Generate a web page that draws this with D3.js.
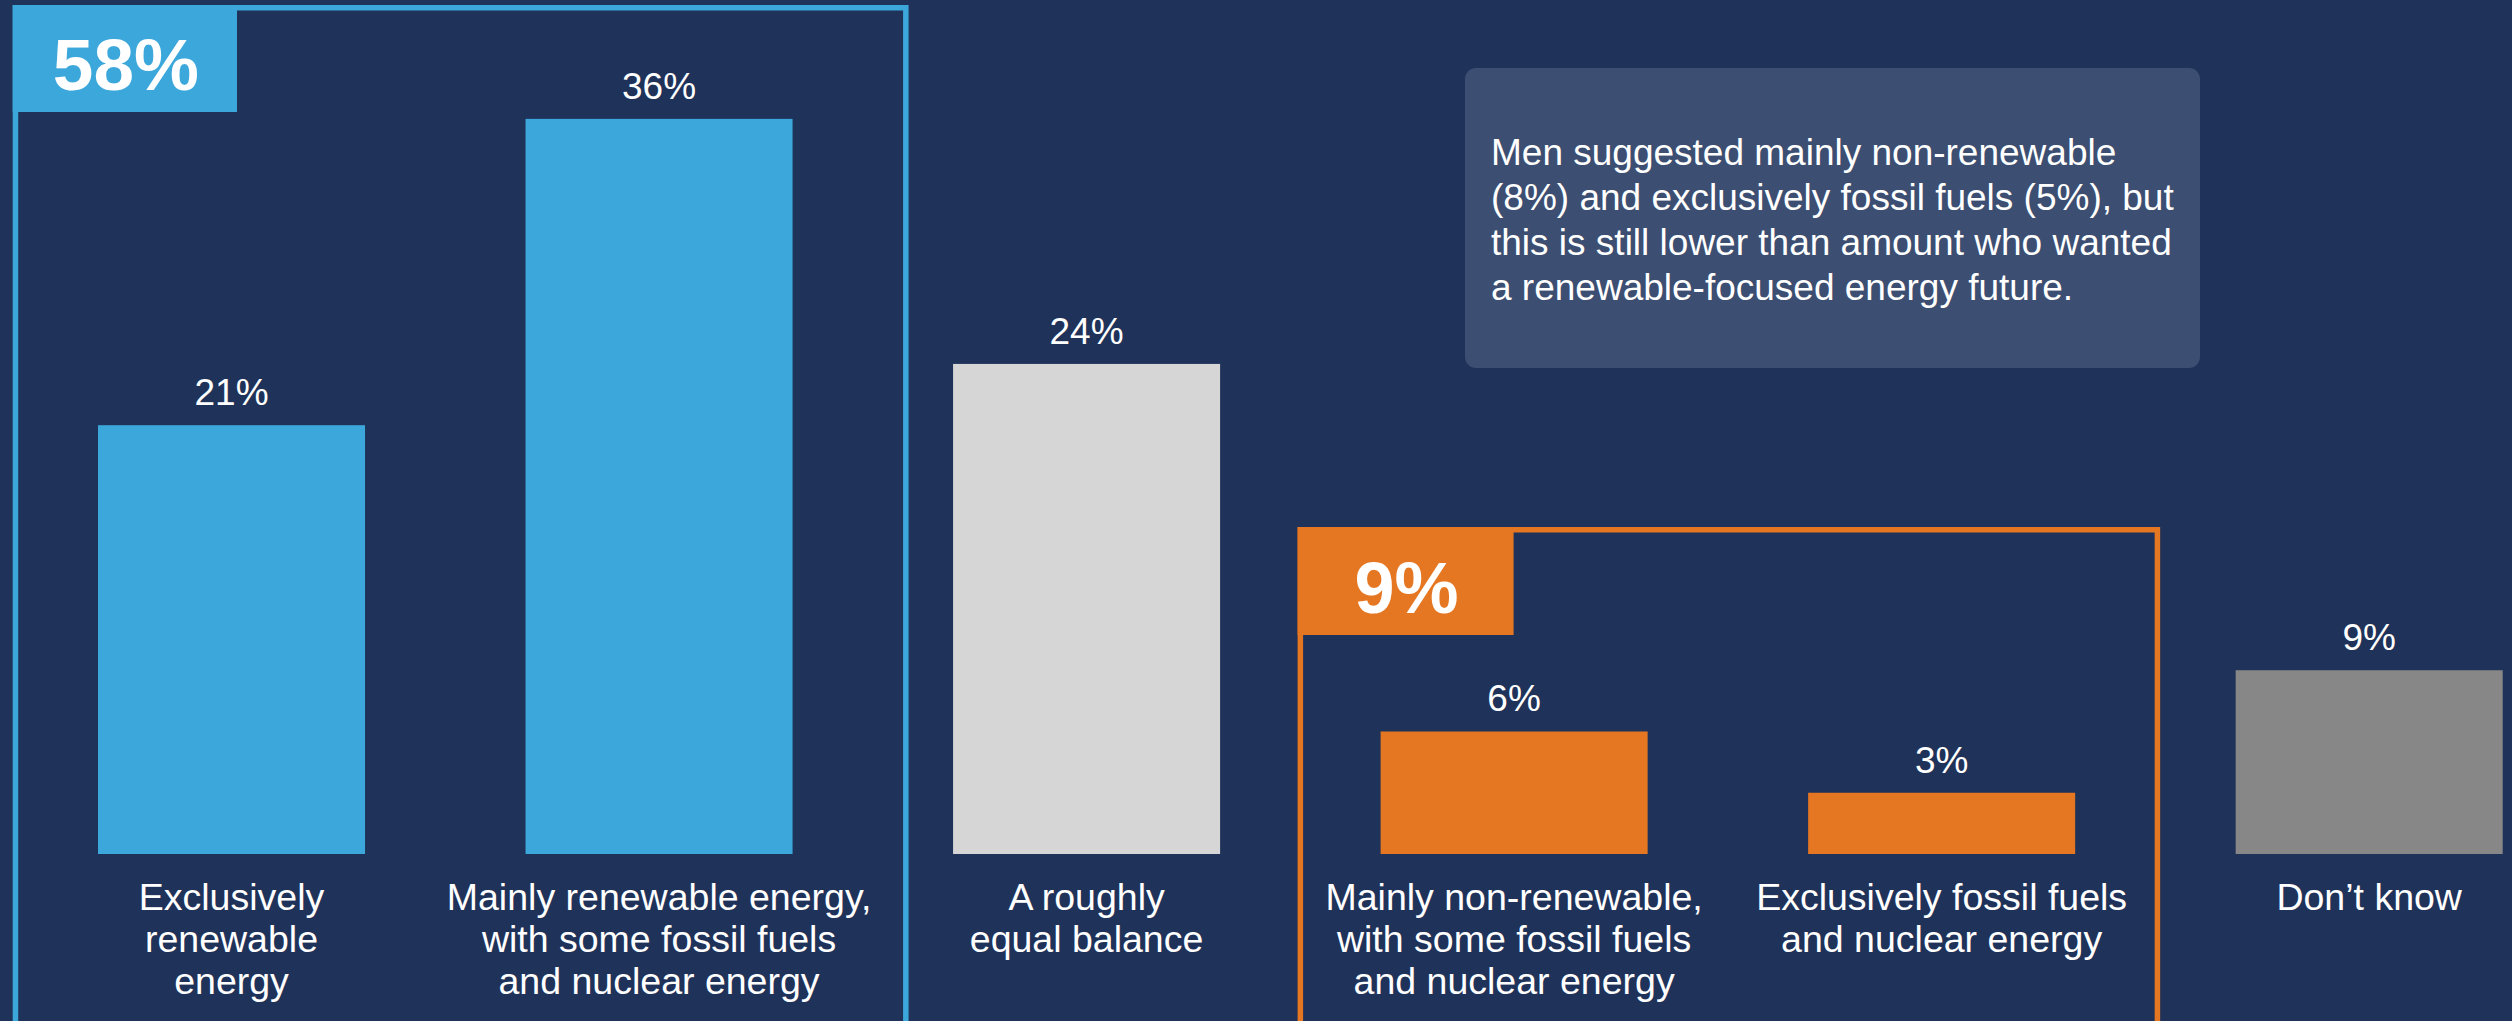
<!DOCTYPE html>
<html>
<head>
<meta charset="utf-8">
<script src="https://cdn.jsdelivr.net/npm/d3@7"></script>
<style>
  html, body { margin: 0; padding: 0; background: #1f3259; }
  svg { display: block; }
  text { font-family: "Liberation Sans", Arial, Helvetica, sans-serif; fill: #ffffff; }
</style>
</head>
<body>
<svg id="chart" width="2512" height="1021"></svg>
<script>
// Survey answers: preferred mix of energy sources
const categoryIds = ["excl-renew", "main-renew", "balance", "main-nonrenew", "excl-fossil", "dont-know"];
const categoryLines = [
  ["Exclusively", "renewable", "energy"],
  ["Mainly renewable energy,", "with some fossil fuels", "and nuclear energy"],
  ["A roughly", "equal balance"],
  ["Mainly non-renewable,", "with some fossil fuels", "and nuclear energy"],
  ["Exclusively fossil fuels", "and nuclear energy"],
  ["Don\u2019t know"]
];
const shareValues = [21, 36, 24, 6, 3, 9];
const barColors = ["#3ca7da", "#3ca7da", "#d6d6d6", "#e57622", "#e57622", "#878787"];

// Grouped totals shown in the corner badges
const groupNames = ["renewable", "nonrenewable"];
const groupMembers = [["excl-renew", "main-renew"], ["main-nonrenew", "excl-fossil"]];
const groupTotals = ["58%", "9%"];
const groupColors = ["#3ca7da", "#e57622"];

const noteLines = [
  "Men suggested mainly non-renewable",
  "(8%) and exclusively fossil fuels (5%), but",
  "this is still lower than amount who wanted",
  "a renewable-focused energy future."
];

const W = 2512, H = 1021;
const svg = d3.select("#chart");

const x = d3.scaleBand()
  .domain(categoryIds)
  .range([98, 2502.7])
  .paddingInner(0.3754)
  .paddingOuter(0);

const y = d3.scaleLinear()
  .domain([0, 40])
  .range([854, 854 - 40 * 20.42]);

const data = categoryIds.map((id, i) => ({
  id, lines: categoryLines[i], value: shareValues[i], color: barColors[i]
}));

// Group frames with badges
const frameSpecs = [
  { top: 5, padL: 85.3, padR: 116, stroke: 5.5, badgeW: 224.3, badgeH: 107, fontSize: 73, baseline: 85 },
  { top: 527, padL: 83, padR: 85, stroke: 5.5, badgeW: 216, badgeH: 108, fontSize: 72, baseline: 86 }
];

const frames = svg.append("g").attr("class", "groups");
groupNames.forEach((name, gi) => {
  const spec = frameSpecs[gi];
  const members = groupMembers[gi];
  const left = x(members[0]) - spec.padL;
  const right = x(members[members.length - 1]) + x.bandwidth() + spec.padR;
  const s = spec.stroke;
  const g = frames.append("g").attr("class", "group-" + name);
  g.append("rect")
    .attr("x", left + s / 2)
    .attr("y", spec.top + s / 2)
    .attr("width", right - left - s)
    .attr("height", H + 3 - spec.top - s / 2)
    .attr("fill", "none")
    .attr("stroke", groupColors[gi])
    .attr("stroke-width", s);
  g.append("rect")
    .attr("x", left)
    .attr("y", spec.top)
    .attr("width", spec.badgeW)
    .attr("height", spec.badgeH)
    .attr("fill", groupColors[gi]);
  g.append("text")
    .attr("x", left + spec.badgeW / 2 + 1)
    .attr("y", spec.top + spec.baseline)
    .attr("text-anchor", "middle")
    .attr("font-weight", "bold")
    .attr("font-size", spec.fontSize)
    .text(groupTotals[gi]);
});

// Bars
svg.append("g").attr("class", "bars")
  .selectAll("rect")
  .data(data)
  .join("rect")
  .attr("x", d => x(d.id))
  .attr("y", d => y(d.value))
  .attr("width", x.bandwidth())
  .attr("height", d => y(0) - y(d.value))
  .attr("fill", d => d.color);

// Value labels above bars
svg.append("g").attr("class", "values")
  .selectAll("text")
  .data(data)
  .join("text")
  .attr("x", d => x(d.id) + x.bandwidth() / 2)
  .attr("y", d => y(d.value) - 20)
  .attr("text-anchor", "middle")
  .attr("font-size", 37)
  .text(d => d.value + "%");

// Category labels under bars
const cats = svg.append("g").attr("class", "categories")
  .selectAll("text")
  .data(data)
  .join("text")
  .attr("x", d => x(d.id) + x.bandwidth() / 2)
  .attr("y", y(0) + 56)
  .attr("text-anchor", "middle")
  .attr("font-size", 37.5);
cats.selectAll("tspan")
  .data(d => d.lines.map(l => ({ line: l, cx: x(d.id) + x.bandwidth() / 2 })))
  .join("tspan")
  .attr("x", d => d.cx)
  .attr("dy", (d, i) => i === 0 ? 0 : 42)
  .text(d => d.line);

// Side note
const note = svg.append("g").attr("class", "note");
note.append("rect")
  .attr("x", 1465)
  .attr("y", 68)
  .attr("width", 735)
  .attr("height", 300)
  .attr("rx", 11)
  .attr("fill", "#3c4e71");
note.append("text")
  .attr("x", 1491)
  .attr("y", 165)
  .attr("font-size", 37)
  .selectAll("tspan")
  .data(noteLines)
  .join("tspan")
  .attr("x", 1491)
  .attr("dy", (d, i) => i === 0 ? 0 : 45)
  .text(d => d);
</script>
</body>
</html>
